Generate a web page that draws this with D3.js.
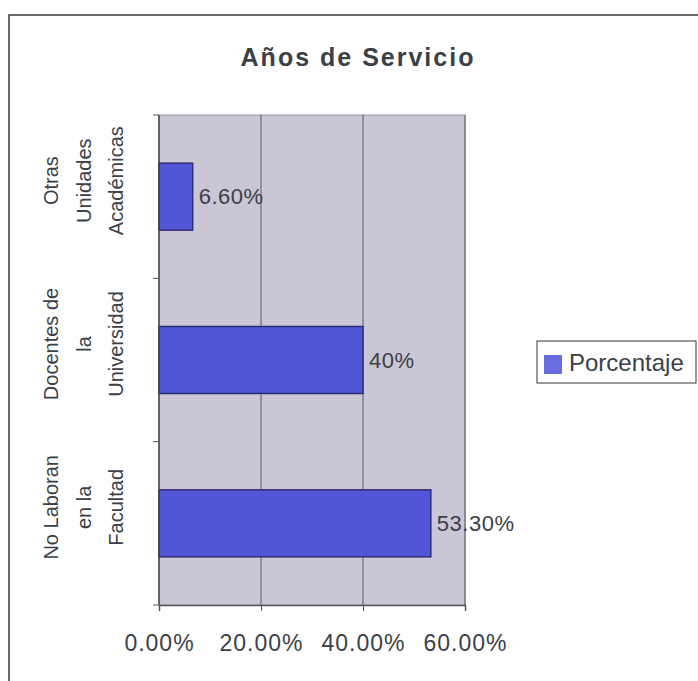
<!DOCTYPE html>
<html>
<head>
<meta charset="utf-8">
<script src="https://cdn.jsdelivr.net/npm/d3@7"></script>
<style>
  body { margin: 0; background: #fff; }
  text { font-family: "Liberation Sans", Arial, sans-serif; fill: #3b3f47; }
</style>
</head>
<body>
<div class="chart"></div>
<script>
// datos del grafico
var categorias = ["Otras Unidades Académicas", "Docentes de la Universidad", "No Laboran en la Facultad"];
var lineasCategoria = [["Otras", "Unidades", "Académicas"], ["Docentes de", "la", "Universidad"], ["No Laboran", "en la", "Facultad"]];
var porcentajes = [6.6, 40, 53.3];
var etiquetas = ["6.60%", "40%", "53.30%"];
var ticksX = [0, 20, 40, 60];
var titulo = "Años de Servicio";
var serie = "Porcentaje";

var width = 698, height = 681;
var plot = { left: 159, right: 465, top: 115, bottom: 605 };

var svg = d3.select(".chart")
    .append("svg")
    .attr("width", width)
    .attr("height", height);

// marco exterior
svg.append("rect")
    .attr("x", 9).attr("y", 15)
    .attr("width", 720).attr("height", 720)
    .style("fill", "none")
    .style("stroke", "#3a3a3a")
    .style("stroke-width", 1.5);

svg.append("text")
    .attr("x", 358).attr("y", 66)
    .attr("text-anchor", "middle")
    .style("font-size", "25px")
    .style("font-weight", "bold")
    .style("letter-spacing", "2px")
    .text(titulo);

var x = d3.scaleLinear().domain([0, 60]).range([plot.left, plot.right]);
var yCat = d3.scaleBand().domain(categorias).range([plot.top, plot.bottom]).padding(0);
var y = d3.scaleBand().domain(categorias).range([plot.top, plot.bottom])
    .paddingInner(0.59).paddingOuter(0.295);

// area del grafico
svg.append("rect")
    .attr("x", plot.left).attr("y", plot.top)
    .attr("width", plot.right - plot.left).attr("height", plot.bottom - plot.top)
    .style("fill", "#cac6d5")
    .style("stroke", "#9a98a4")
    .style("stroke-width", 1);

svg.selectAll(".grid")
    .data(ticksX.slice(1))
    .enter().append("line")
    .attr("class", "grid")
    .attr("x1", function(d) { return x(d); })
    .attr("x2", function(d) { return x(d); })
    .attr("y1", plot.top)
    .attr("y2", plot.bottom)
    .style("stroke", "#5a5a66")
    .style("stroke-width", 1);

// barras
svg.selectAll(".bar")
    .data(porcentajes)
    .enter().append("rect")
    .attr("class", "bar")
    .attr("x", x(0))
    .attr("y", function(d, i) { return y(categorias[i]); })
    .attr("width", function(d) { return x(d) - x(0); })
    .attr("height", y.bandwidth())
    .style("fill", "#5156d8")
    .style("stroke", "#2c2e72")
    .style("stroke-width", 1.5);

svg.selectAll(".etiqueta")
    .data(porcentajes)
    .enter().append("text")
    .attr("class", "etiqueta")
    .attr("x", function(d) { return x(d) + 6; })
    .attr("y", function(d, i) { return y(categorias[i]) + y.bandwidth() / 2; })
    .attr("dy", "0.35em")
    .style("font-size", "22px")
    .style("letter-spacing", "0.5px")
    .text(function(d, i) { return etiquetas[i]; });

// eje x
var ejeX = svg.append("g")
    .attr("transform", "translate(0," + plot.bottom + ")")
    .call(d3.axisBottom(x)
        .tickValues(ticksX)
        .tickSize(6)
        .tickPadding(24)
        .tickFormat(function(d) { return d3.format(".2f")(d) + "%"; }));
ejeX.select(".domain").style("stroke", "#55555e").style("stroke-width", 1.5);
ejeX.selectAll(".tick line").style("stroke", "#55555e");
ejeX.selectAll("text")
    .style("font-size", "23px")
    .style("letter-spacing", "1px")
    .style("fill", "#3b3f47");

// eje de categorias
svg.append("line")
    .attr("x1", plot.left).attr("x2", plot.left)
    .attr("y1", plot.top).attr("y2", plot.bottom)
    .style("stroke", "#44444c")
    .style("stroke-width", 1.5);

var bordes = categorias.map(function(c) { return yCat(c); }).concat([plot.bottom]);
svg.selectAll(".tickcat")
    .data(bordes)
    .enter().append("line")
    .attr("class", "tickcat")
    .attr("x1", plot.left - 6).attr("x2", plot.left)
    .attr("y1", function(d) { return d; })
    .attr("y2", function(d) { return d; })
    .style("stroke", "#55555e");

var grupos = svg.selectAll(".cat")
    .data(categorias)
    .enter().append("g")
    .attr("class", "cat")
    .attr("transform", function(d) {
        return "translate(0," + (yCat(d) + yCat.bandwidth() / 2 - 16) + ") rotate(-90)";
    });

grupos.selectAll("text")
    .data(function(d, i) { return lineasCategoria[i]; })
    .enter().append("text")
    .attr("x", 0)
    .attr("y", function(d, j) { return 58 + j * 32.5; })
    .attr("text-anchor", "middle")
    .style("font-size", "20px")
    .text(function(d) { return d; });

// leyenda
var leyenda = svg.append("g");
leyenda.append("rect")
    .attr("x", 537).attr("y", 341)
    .attr("width", 159).attr("height", 42)
    .style("fill", "#fff")
    .style("stroke", "#333")
    .style("stroke-width", 1);
leyenda.append("rect")
    .attr("x", 544).attr("y", 355)
    .attr("width", 18).attr("height", 19)
    .style("fill", "#6a6de0");
leyenda.append("text")
    .attr("x", 569).attr("y", 371)
    .style("font-size", "24px")
    .text(serie);
</script>
</body>
</html>
